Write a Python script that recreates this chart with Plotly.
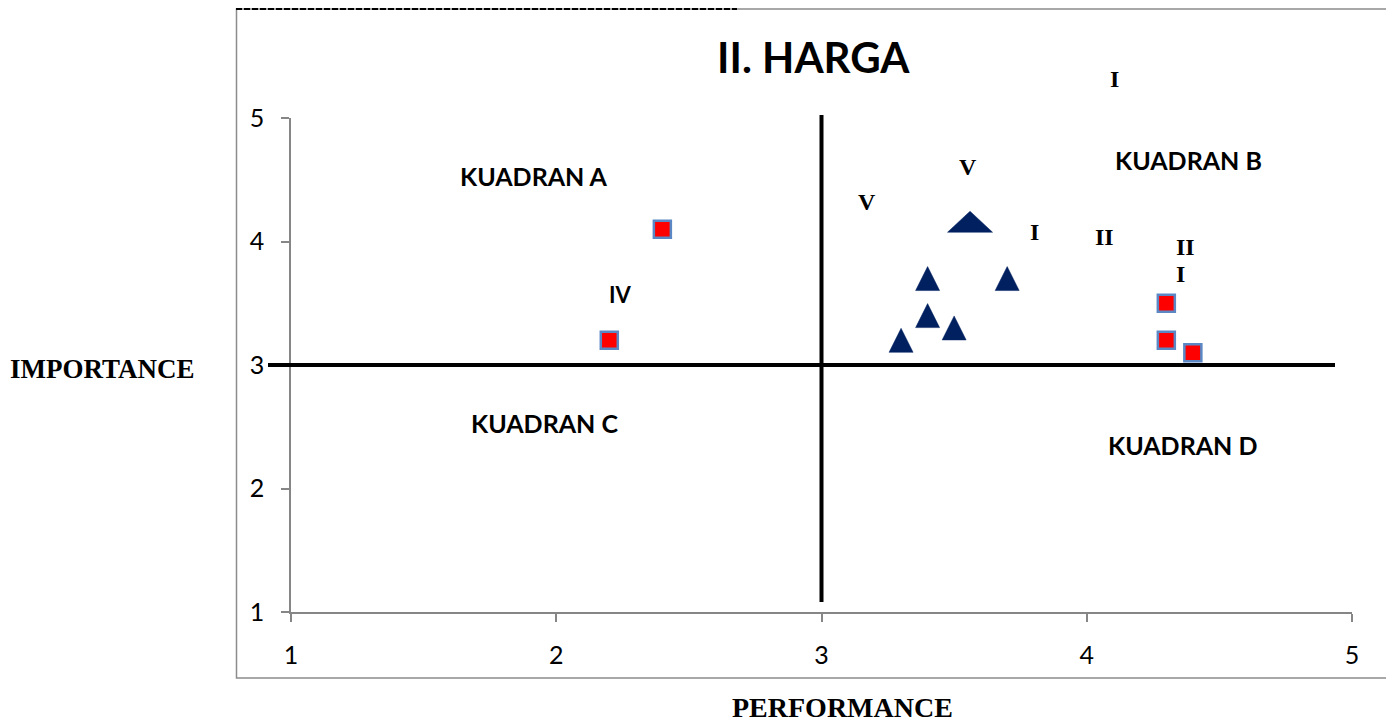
import plotly.graph_objects as go

# ---------------- data ----------------
red_x = [2.4, 2.2, 4.3, 4.3, 4.4]
red_y = [4.1, 3.2, 3.5, 3.2, 3.1]
tri_x = [3.4, 3.7, 3.4, 3.5, 3.3]
tri_y = [3.7, 3.7, 3.4, 3.3, 3.2]
mean_x = [3.56]
mean_y = [4.16]
x_ticks = [1, 2, 3, 4, 5]
y_ticks = [1, 2, 3, 4, 5]
x_mid = 3
y_mid = 3
title_text = "II. HARGA"
quadrant_labels = ["KUADRAN A", "KUADRAN B", "KUADRAN C", "KUADRAN D"]
roman_labels = ["I", "V", "V", "I", "II", "II", "I"]
side_label = "IV"
x_title = "PERFORMANCE"
y_title = "IMPORTANCE"

# ---------------- geometry (body margin removed in the page) ----------------
OFF = 0
W, H = 1386, 726
ML, MT = 291 - OFF, 118 - OFF
MR = W - (1352 - OFF)
MB = H - (612 - OFF)
PW, PH = W - ML - MR, H - MT - MB
XR = [1, 5]
YR = [1, 5]
DX = (XR[1] - XR[0]) / PW  # data units per px
DY = (YR[1] - YR[0]) / PH


def px_x(px):
    return (px - OFF - ML) / PW


def px_y(py):
    return (H - MB - (py - OFF)) / PH


def dx_paper(v):
    return (v - XR[0]) / (XR[1] - XR[0])


def dy_paper(v):
    return (v - YR[0]) / (YR[1] - YR[0])


def triangles(xs, ys, wpx, hpx):
    px, py = [], []
    for x, y in zip(xs, ys):
        hw, hh = wpx / 2 * DX, hpx / 2 * DY
        px += [x - hw, x, x + hw, x - hw, None]
        py += [y - hh, y + hh, y - hh, y - hh, None]
    return px, py


NAVY = "#002060"
fig = go.Figure()

tx, ty = triangles(tri_x, tri_y, 24, 24)
fig.add_trace(go.Scatter(x=tx, y=ty, mode="lines", fill="toself",
                         fillcolor=NAVY, line=dict(color=NAVY, width=0.5),
                         hoverinfo="skip", showlegend=False))
mx, my = triangles(mean_x, mean_y, 45, 21)
fig.add_trace(go.Scatter(x=mx, y=my, mode="lines", fill="toself",
                         fillcolor=NAVY, line=dict(color=NAVY, width=0.5),
                         hoverinfo="skip", showlegend=False))
fig.add_trace(go.Scatter(x=red_x, y=red_y, mode="markers", showlegend=False,
                         marker=dict(symbol="square", size=17, color="#FF0000",
                                     line=dict(color="#5B87C5", width=2.5))))

shapes = [
    # outer frame
    dict(type="rect", xref="paper", yref="paper", x0=px_x(236.5), x1=px_x(1400),
         y0=px_y(678), y1=px_y(9), line=dict(color="#8c8c8c", width=1.5), layer="below"),
    # dashed line from the document above
    dict(type="line", xref="paper", yref="paper", x0=px_x(236), x1=px_x(737),
         y0=px_y(9), y1=px_y(9), line=dict(color="#000000", width=2, dash="6px,2px")),
    # quadrant lines
    dict(type="line", xref="paper", yref="paper", x0=px_x(268), x1=px_x(1335),
         y0=dy_paper(y_mid), y1=dy_paper(y_mid), line=dict(color="#000000", width=4)),
    dict(type="line", xref="paper", yref="paper", x0=dx_paper(x_mid), x1=dx_paper(x_mid),
         y0=px_y(602), y1=px_y(115), line=dict(color="#000000", width=4)),
]

SANS = "Lato"
SERIF = "Liberation Serif"
ann = []


def add_text(text, cx, cy, family, size, bold=True):
    ann.append(dict(text=("<b>%s</b>" % text) if bold else text, xref="paper", yref="paper",
                    x=px_x(cx), y=px_y(cy), xanchor="center", yanchor="middle",
                    showarrow=False, font=dict(family=family, size=size, color="#000000")))


add_text(title_text, 813, 57, SANS, 42)
q_pos = [(534, 176), (1188, 160), (544, 423), (1182, 445)]
for t, (cx, cy) in zip(quadrant_labels, q_pos):
    add_text(t, cx, cy, SANS, 25)
r_pos = [(1114, 79), (968, 167), (867, 202), (1034, 232), (1104, 237), (1185, 247), (1180, 274)]
for t, (cx, cy) in zip(roman_labels, r_pos):
    add_text(t, cx, cy, SERIF, 24)
add_text(side_label, 620, 294, SANS, 22)
add_text(y_title, 102, 369, SERIF, 27)
add_text(x_title, 842, 707, SERIF, 28)

fig.update_layout(
    width=W, height=H,
    margin=dict(l=ML, r=MR, t=MT, b=MB, pad=0),
    paper_bgcolor="white", plot_bgcolor="white",
    shapes=shapes, annotations=ann,
    xaxis=dict(range=XR, tickvals=x_ticks, ticktext=[str(v) for v in x_ticks],
               showgrid=False, zeroline=False, showline=True, linecolor="#868686",
               linewidth=1.5, ticks="outside", ticklen=8, tickcolor="#868686", tickwidth=1.5,
               ticklabelstandoff=12, tickfont=dict(family=SANS, size=25, color="#000000")),
    yaxis=dict(range=YR, tickvals=y_ticks, ticktext=[str(v) for v in y_ticks],
               showgrid=False, zeroline=False, showline=True, linecolor="#868686",
               linewidth=1.5, ticks="outside", ticklen=8, tickcolor="#868686", tickwidth=1.5,
               ticklabelstandoff=12, tickfont=dict(family=SANS, size=25, color="#000000")),
)

fig.write_html("out.html", config={"displayModeBar": False},
               post_script="document.body.style.margin='0px';document.body.style.overflow='hidden';")
